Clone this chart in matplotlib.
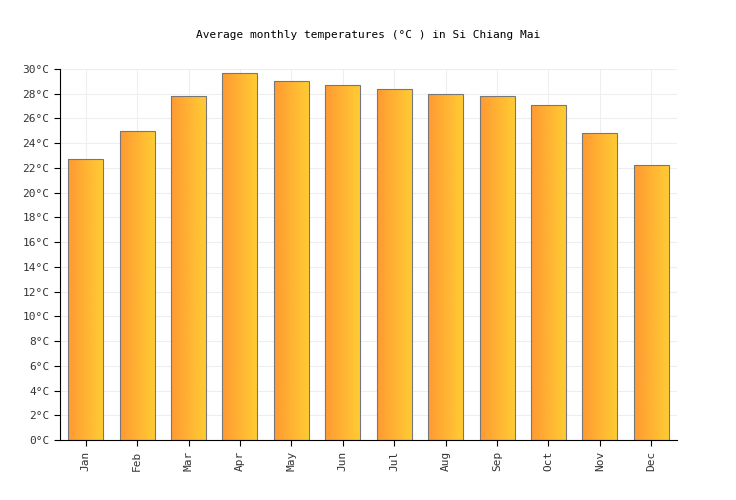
import matplotlib
matplotlib.use("Agg")
import matplotlib.pyplot as plt
import numpy as np

months = ["Jan","Feb","Mar","Apr","May","Jun","Jul","Aug","Sep","Oct","Nov","Dec"]
temps = [22.7, 25.0, 27.8, 29.7, 29.0, 28.7, 28.4, 28.0, 27.8, 27.1, 24.8, 22.2]
yticks = list(range(0, 31, 2))

plt.rcParams["font.family"] = "DejaVu Sans Mono"
fig = plt.figure(figsize=(7.36, 5.0), dpi=100)
ax = fig.add_axes([60/736, 60/500, 617/736, 371/500])
x = np.arange(len(months))
bars = ax.bar(x, temps, width=0.68, color="none", edgecolor="#777777", linewidth=0.8, zorder=3)
grad = np.linspace(0, 1, 256).reshape(1, -1)
from matplotlib.colors import LinearSegmentedColormap
cmap = LinearSegmentedColormap.from_list("g", ["#ff9933", "#ffcc33"])
for b in bars:
    x0, w, h = b.get_x(), b.get_width(), b.get_height()
    im = ax.imshow(grad, cmap=cmap, aspect="auto", extent=[x0, x0+w, 0, h], zorder=2)
    im.set_clip_path(b)
ax.set_xlim(-0.5, 11.5)
ax.set_ylim(0, 30)
ax.set_yticks(yticks)
ax.set_yticklabels([f"{t}°C" for t in yticks], fontsize=8, color="#333333")
ax.set_xticks(x)
ax.set_xticklabels(months, rotation=90, fontsize=8, color="#333333")
ax.grid(True, color="#eeeeee", linewidth=0.8, zorder=0)
for s in ["top", "right"]:
    ax.spines[s].set_visible(False)
ax.tick_params(length=4, color="#000000")
fig.text(0.5, 1-35/500, "Average monthly temperatures (°C ) in Si Chiang Mai", ha="center", va="center", fontsize=8, color="#000000")
fig.savefig("out.png", dpi=100)
